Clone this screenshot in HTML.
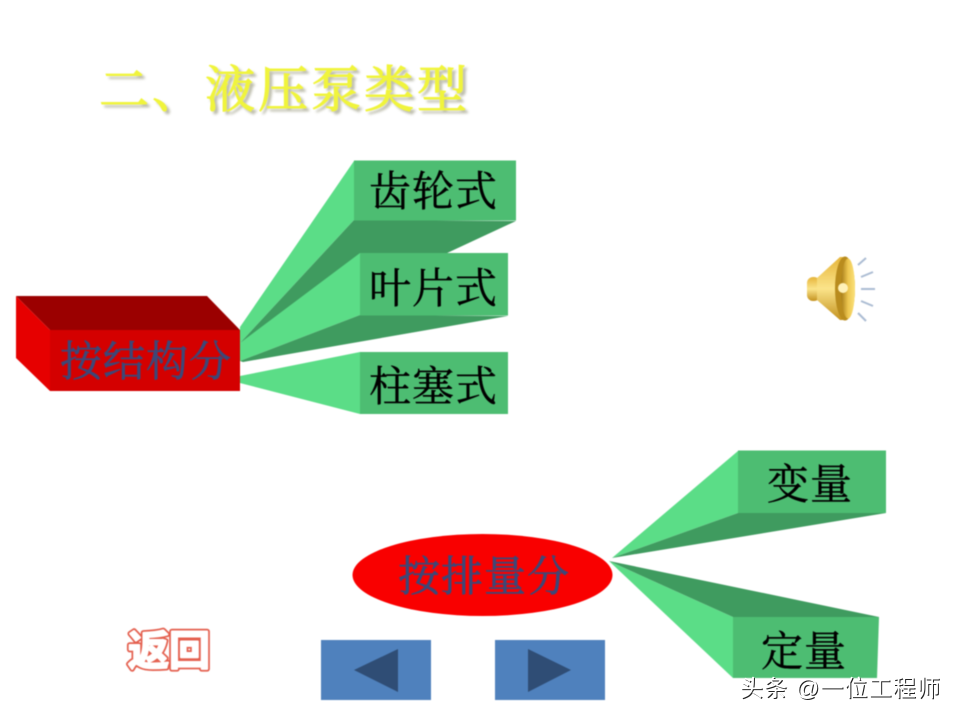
<!DOCTYPE html>
<html lang="zh"><head><meta charset="utf-8"><title>液压泵类型</title>
<style>
html,body{margin:0;padding:0;background:#fff;width:960px;height:720px;overflow:hidden}
svg{display:block}
text{font-family:"Liberation Serif","Noto Serif CJK SC",serif}
.t{font-size:42px;fill:#000;stroke:#000;stroke-width:.4px;letter-spacing:1px}
.b{font-size:42px;fill:#3c4878;stroke:#3c4878;stroke-width:.6px;letter-spacing:1px}
.l{fill:#5bdd87}.f{fill:#4dbd72}.d{fill:#3f9b5f}
.s{filter:blur(.4px)}
.r{font-family:"Liberation Sans","Noto Sans CJK SC",sans-serif;font-size:41px;font-weight:700;stroke-linejoin:round}
</style></head><body>
<svg width="960" height="720" viewBox="0 0 960 720" xmlns="http://www.w3.org/2000/svg">
<defs>
<linearGradient id="g" x1="0" y1="0" x2="0" y2="1"><stop offset="0" stop-color="#e6b53a"/><stop offset=".5" stop-color="#fbe48a"/><stop offset="1" stop-color="#c4921f"/></linearGradient>
<linearGradient id="h" x1="0" y1="0" x2="1" y2="0"><stop offset="0" stop-color="#a67c18"/><stop offset=".5" stop-color="#eec64f"/><stop offset="1" stop-color="#fbe27c"/></linearGradient>
<filter id="sh" x="-5%" y="-20%" width="110%" height="140%"><feGaussianBlur stdDeviation="1.200"/></filter>
</defs>
<rect width="960" height="720" fill="#fff"/>
<g class="s">
<text x="102" y="110" font-size="50" letter-spacing="3" fill="#a0a088" stroke="#a0a088" stroke-width=".8" filter="url(#sh)" opacity=".7">二、液压泵类型</text>
<text x="99" y="107" font-size="50" letter-spacing="3" fill="#f0f43c" stroke="#f0f43c" stroke-width="1">二、液压泵类型</text>

<polygon class="l" points="354,161 354,220 240,343 240,327"/>
<polygon class="d" points="354,220 516,221 445,254 240,343"/>
<rect class="f" x="354" y="160.500" width="162" height="60"/>
<polygon class="l" points="360,253 360,315 240,361 240,343"/>
<polygon class="d" points="360,315 508,316 243,362 240,361"/>
<rect class="f" x="360" y="253" width="148" height="62.500"/>
<polygon class="l" points="360,352 360,414 240,383 240,376"/>
<rect class="f" x="360" y="352" width="148" height="62"/>
<polygon points="16,296 207,296 240,330 50,330" fill="#9b0000"/>
<polygon points="16,296 50,330 50,391 16,358" fill="#e60000"/>
<rect x="50" y="330" width="190" height="61" fill="#d40000"/>
<text class="b" x="60" y="376">按结构分</text>
<text class="t" x="369" y="206">齿轮式</text>
<text class="t" x="369" y="303">叶片式</text>
<text class="t" x="369" y="401">柱塞式</text>

<polygon class="l" points="738,451 738,513 612,558"/>
<polygon class="d" points="738,513 886,513 612,558"/>
<rect class="f" x="738" y="450.500" width="148" height="62.500"/>
<polygon class="l" points="609,561 733,617 733,678"/>
<polygon class="d" points="609,561 879,617 733,617"/>
<polygon class="f" points="733,617 879,617 877,678 733,678"/>
<ellipse cx="482.500" cy="575" rx="130" ry="41" fill="#f90000"/>
<text class="b" x="398" y="591">按排量分</text>
<text class="t" x="767" y="499">变量</text>
<text class="t" x="761" y="666">定量</text>

<rect x="807" y="277" width="13" height="24" rx="6" fill="url(#g)"/>
<polygon points="817,278 840,257 846,257 846,320 840,320 817,300" fill="url(#g)"/>
<ellipse cx="845" cy="288.500" rx="10" ry="32" fill="#b98c1e"/>
<ellipse cx="848" cy="288.500" rx="7" ry="30" fill="url(#h)"/>
<circle cx="843" cy="288" r="5" fill="#fff1b8"/>
<g stroke="#8fa6c4" stroke-width="2" opacity=".75">
<line x1="858" y1="265" x2="866" y2="258"/><line x1="861" y1="277" x2="873" y2="272"/>
<line x1="861" y1="289" x2="875" y2="289"/><line x1="861" y1="301" x2="873" y2="306"/>
<line x1="858" y1="313" x2="866" y2="321"/></g>

<text class="r" x="128" y="665" fill="#e4604f" stroke="#e4604f" stroke-width="5.500">返回</text>
<text class="r" x="128" y="665" fill="#fff" stroke="#fff" stroke-width="2">返回</text>

<rect x="321" y="640" width="110" height="60" fill="#4f81bd"/>
<polygon points="354,670 398,649 398,692" fill="#2f4d75"/>
<rect x="495" y="640" width="110" height="60" fill="#4f81bd"/>
<polygon points="528,649 528,692 571,670" fill="#2f4d75"/>
</g>

<text x="741" y="697" font-size="23" textLength="200" fill="#222" style="font-family:'Liberation Sans','Noto Sans CJK SC',sans-serif">头条 @一位工程师</text>
<text x="740" y="696" font-size="23" textLength="200" fill="#fff" style="font-family:'Liberation Sans','Noto Sans CJK SC',sans-serif">头条 @一位工程师</text>
</svg>
</body></html>
